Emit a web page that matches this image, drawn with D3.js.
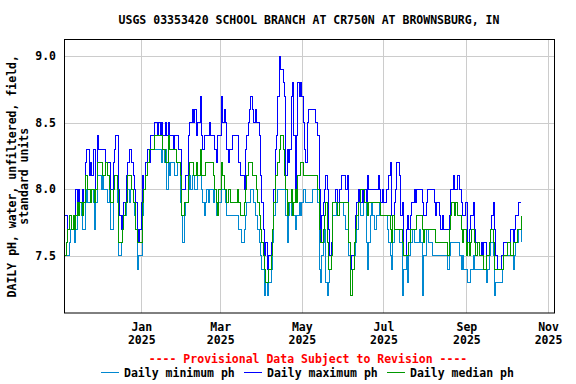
<!DOCTYPE html>
<html><head><meta charset="utf-8">
<script src="https://cdn.jsdelivr.net/npm/d3@7"></script>
<style>
body{margin:0;background:#fff}
svg text{font-family:"DejaVu Sans Mono",monospace;font-weight:bold;font-size:11.5px;fill:#000}
</style>
</head><body><svg id="c" width="576" height="384"></svg>
<script>
// ---- data (daily pH values, starting 2024-11-05) ----
const startDate = [2024, 10, 5];
const dailyMin = [
7.5,7.5,7.5,7.6,7.7,7.7,7.7,7.6,7.7,7.8,
7.8,7.9,7.8,7.7,7.7,7.9,8.0,7.9,7.9,7.9,
8.0,7.9,7.7,7.9,8.1,8.1,8.1,8.0,8.1,8.0,
8.0,8.0,7.9,8.0,7.7,7.7,8.0,8.1,8.1,7.9,
7.5,7.5,7.6,7.7,7.8,7.8,7.9,8.0,7.9,8.0,
8.0,7.9,7.8,7.7,7.4,7.5,7.5,7.5,7.8,8.0,
8.1,8.1,8.2,8.2,8.3,8.3,8.3,8.3,8.3,8.3,
8.3,8.3,8.2,8.3,8.2,8.3,8.0,8.2,8.1,8.2,
8.2,8.2,8.1,8.1,8.2,8.2,7.9,7.8,7.6,7.8,
7.9,7.9,8.0,8.1,8.0,8.1,8.1,8.0,8.0,8.1,
8.1,8.1,8.0,7.9,7.8,7.9,8.0,7.9,8.0,8.0,
8.0,7.9,8.0,7.8,7.8,7.9,7.9,8.0,8.0,8.0,
7.9,7.8,7.8,7.8,7.8,7.8,7.8,7.8,7.8,7.8,
7.7,7.7,7.6,7.6,7.7,7.8,7.9,7.9,7.9,8.0,
8.0,7.9,7.8,7.8,7.7,7.6,7.5,7.4,7.4,7.2,
7.3,7.2,7.3,7.3,7.4,7.6,7.8,7.9,7.9,8.0,
8.0,8.0,8.0,8.0,8.0,7.8,7.6,7.8,7.9,7.8,
7.9,7.8,7.7,7.8,7.8,7.9,7.8,7.9,8.0,8.0,
7.9,7.9,7.9,7.9,7.9,8.0,8.0,8.0,8.0,7.9,
7.4,7.3,7.5,7.6,7.7,7.3,7.2,7.3,7.4,7.5,
7.8,7.8,7.8,7.9,7.8,7.9,7.9,7.9,7.8,7.8,
7.7,7.7,7.5,7.2,7.2,7.4,7.5,7.6,7.7,7.9,
7.9,7.8,7.8,7.9,7.9,7.6,7.4,7.6,7.8,7.9,
7.8,7.7,7.7,7.8,7.8,7.9,7.8,7.8,7.8,7.8,
7.8,7.7,7.6,7.5,7.4,7.6,7.7,7.7,7.7,7.7,
7.6,7.6,7.2,7.4,7.4,7.5,7.3,7.5,7.6,7.6,
7.7,7.6,7.6,7.6,7.6,7.7,7.6,7.2,7.5,7.5,
7.7,7.7,7.6,7.6,7.6,7.5,7.5,7.5,7.5,7.5,
7.5,7.5,7.5,7.5,7.5,7.5,7.4,7.5,7.6,7.6,
7.6,7.6,7.6,7.6,7.6,7.5,7.4,7.5,7.4,7.4,
7.4,7.3,7.3,7.4,7.4,7.5,7.4,7.4,7.4,7.4,
7.4,7.4,7.4,7.4,7.4,7.3,7.4,7.5,7.6,7.6,
7.5,7.2,7.3,7.3,7.3,7.3,7.3,7.4,7.5,7.5,
7.5,7.5,7.5,7.5,7.5,7.4,7.5,7.6,7.6,7.7,
7.7,7.6];
const dailyMax = [
7.8,7.8,7.7,7.8,7.8,7.7,7.8,7.7,8.0,7.9,
8.0,7.9,7.9,8.0,7.9,8.2,8.3,8.3,8.1,8.2,
8.1,8.3,8.3,8.0,8.4,8.3,8.3,8.3,8.3,8.3,
8.2,8.2,8.2,8.2,8.0,8.0,8.2,8.3,8.4,8.4,
8.0,7.8,7.7,7.8,7.9,7.9,8.1,8.2,8.3,8.3,
8.2,8.1,8.0,7.9,7.7,7.6,7.7,7.9,8.1,8.0,
8.2,8.2,8.3,8.2,8.4,8.4,8.4,8.5,8.5,8.4,
8.5,8.4,8.5,8.4,8.4,8.5,8.4,8.5,8.4,8.4,
8.4,8.3,8.4,8.4,8.4,8.3,8.3,8.0,8.0,8.0,
8.1,8.1,8.4,8.5,8.5,8.6,8.5,8.6,8.4,8.5,
8.5,8.7,8.4,8.3,8.4,8.4,8.4,8.4,8.5,8.4,
8.4,8.4,8.3,8.2,8.4,8.4,8.4,8.7,8.5,8.6,
8.5,8.3,8.2,8.3,8.3,8.4,8.4,8.4,8.4,8.4,
8.2,8.1,8.1,8.1,8.0,8.3,8.4,8.5,8.6,8.7,
8.6,8.5,8.6,8.5,8.5,8.4,8.1,7.9,7.7,7.5,
7.6,7.4,7.5,7.5,7.6,7.7,8.0,8.3,8.4,8.7,
9.0,8.9,8.9,8.8,8.7,8.1,8.3,8.2,8.3,8.7,
8.8,8.4,8.0,8.4,8.8,8.7,8.8,8.7,8.5,8.3,
8.2,8.5,8.6,8.6,8.6,8.6,8.6,8.5,8.5,8.4,
8.0,7.6,7.8,7.9,8.0,8.1,8.0,7.7,7.5,7.6,
7.9,7.9,8.0,8.0,7.9,8.0,8.0,8.1,8.1,8.1,
8.0,8.1,7.6,7.4,7.5,7.5,7.6,7.8,7.9,8.0,
7.9,7.9,8.0,7.9,8.0,7.9,8.1,8.0,8.0,8.0,
8.0,8.0,8.0,8.0,8.1,8.0,7.9,8.0,7.9,7.9,
8.0,8.0,8.1,8.2,7.8,7.8,7.9,8.0,8.2,8.2,
8.1,7.8,7.9,7.5,7.5,7.7,7.8,7.7,7.8,7.9,
7.9,8.0,7.9,8.0,8.0,8.0,8.0,7.9,7.8,7.8,
7.9,8.0,8.0,8.0,8.0,8.0,7.9,7.8,7.9,7.9,
7.8,7.7,7.8,7.7,7.7,7.7,7.7,7.8,8.0,8.0,
8.1,8.0,8.0,8.1,8.1,8.0,7.9,7.8,7.8,7.9,
7.9,7.6,7.7,7.8,7.8,7.9,7.7,7.6,7.6,7.6,
7.5,7.6,7.5,7.6,7.6,7.5,7.5,7.6,7.7,7.8,
7.9,7.7,7.5,7.4,7.4,7.4,7.5,7.5,7.6,7.6,
7.6,7.6,7.6,7.7,7.7,7.6,7.7,7.8,7.8,7.9,
7.9,7.9];
const dailyMedian = [
7.5,7.6,7.7,7.8,7.8,7.7,7.8,7.7,7.8,7.9,
7.8,7.9,7.9,7.8,7.9,8.1,8.1,8.0,8.0,7.9,
8.0,8.0,7.9,8.0,8.2,8.2,8.2,8.2,8.1,8.1,
8.2,8.2,8.1,8.0,7.9,7.9,8.0,8.1,8.1,8.0,
7.6,7.6,7.6,7.7,7.8,7.9,7.9,8.1,8.1,8.1,
8.0,7.9,7.9,7.7,7.6,7.6,7.6,7.6,7.9,8.0,
8.1,8.1,8.2,8.3,8.3,8.3,8.3,8.4,8.4,8.4,
8.4,8.4,8.4,8.3,8.3,8.2,8.2,8.4,8.3,8.3,
8.3,8.3,8.3,8.2,8.2,8.2,8.1,7.8,7.8,7.9,
7.9,7.9,8.1,8.2,8.2,8.2,8.1,8.1,8.2,8.1,
8.1,8.3,8.1,8.1,8.1,8.2,8.2,8.2,8.2,8.2,
8.2,8.1,8.0,7.9,7.8,8.0,8.0,8.2,8.1,8.0,
8.0,7.9,8.0,8.0,7.9,7.9,7.9,7.9,7.9,8.0,
7.9,7.8,7.8,7.8,7.9,8.0,8.1,8.2,8.2,8.2,
8.1,8.1,8.1,8.0,7.9,7.8,7.7,7.6,7.5,7.4,
7.3,7.3,7.4,7.4,7.5,7.7,7.9,8.1,8.1,8.2,
8.3,8.4,8.4,8.3,8.1,8.0,7.8,7.9,7.9,8.0,
7.8,7.9,8.0,7.9,8.1,8.1,8.2,8.2,8.1,8.1,
8.1,8.1,8.1,8.1,8.1,8.1,8.1,8.1,8.1,8.0,
7.7,7.6,7.6,7.7,7.8,7.9,7.6,7.4,7.4,7.5,
7.9,7.9,7.9,7.9,7.8,7.9,7.9,7.9,7.9,7.9,
7.9,7.9,7.6,7.2,7.2,7.4,7.6,7.7,7.8,7.9,
7.9,8.0,8.0,8.0,7.9,7.9,7.8,7.9,7.9,7.9,
7.9,7.9,7.9,7.9,7.9,7.9,7.8,7.8,7.8,7.8,
7.8,7.8,7.8,7.7,7.6,7.8,7.7,7.7,7.7,7.7,
7.7,7.7,7.6,7.5,7.5,7.5,7.5,7.6,7.7,7.7,
7.7,7.7,7.7,7.8,7.8,7.8,7.8,7.7,7.6,7.7,
7.7,7.7,7.7,7.7,7.7,7.7,7.7,7.6,7.6,7.6,
7.6,7.6,7.6,7.6,7.6,7.6,7.5,7.7,7.8,7.9,
7.9,7.8,7.9,7.8,7.8,7.8,7.7,7.6,7.7,7.7,
7.5,7.6,7.5,7.6,7.7,7.7,7.6,7.5,7.6,7.6,
7.5,7.5,7.5,7.4,7.4,7.5,7.5,7.6,7.7,7.7,
7.6,7.4,7.4,7.4,7.4,7.4,7.4,7.4,7.5,7.5,
7.5,7.6,7.6,7.5,7.5,7.6,7.6,7.6,7.7,7.7,
7.7,7.8];
const yTicks = [7.5, 8.0, 8.5, 9.0];
const xTickMonths = ["2025-01-01","2025-03-01","2025-05-01","2025-07-01","2025-09-01","2025-11-01"];
const titleText = "USGS 03353420 SCHOOL BRANCH AT CR750N AT BROWNSBURG, IN";
const yLabelLines = ["DAILY pH, water, unfiltered, field,", "standard units"];
const provisionalText = "---- Provisional Data Subject to Revision ----";
const seriesNames = ["Daily minimum ph", "Daily maximum ph", "Daily median ph"];
const seriesColors = ["#0088d0", "#0000ff", "#009900"];

// ---- chart ----
const svg = d3.select("#c");
const L = 64, R = 554, T = 39.5, B = 313;
const x = d3.scaleUtc()
  .domain([new Date(Date.UTC(2024,10,4,6)), new Date(Date.UTC(2025,10,5,11))])
  .range([L, R]);
const y = d3.scaleLinear().domain([7.07, 9.125]).range([B, T]);

const toSeries = arr => arr.map((v,i) => ({date: new Date(Date.UTC(startDate[0], startDate[1], startDate[2]+i)), v}));

// grid
const tickDates = xTickMonths.map(s => new Date(s + "T00:00:00Z"));
svg.append("g").attr("transform", `translate(0,${B})`)
  .call(d3.axisBottom(x).tickValues(tickDates).tickSize(-(B-T)).tickFormat(""))
  .call(g => g.select(".domain").remove())
  .call(g => g.selectAll("line").attr("stroke","#cccccc").attr("shape-rendering","crispEdges"));
svg.append("g").attr("transform", `translate(${L},0)`)
  .call(d3.axisLeft(y).tickValues(yTicks).tickSize(-(R-L)).tickFormat(""))
  .call(g => g.select(".domain").remove())
  .call(g => g.selectAll("line").attr("stroke","#cccccc").attr("shape-rendering","crispEdges"));

// lines
const line = d3.line().x(d => x(d.date)).y(d => y(d.v)).curve(d3.curveStepAfter);
[dailyMin, dailyMax, dailyMedian].forEach((arr, k) => {
  svg.append("path").datum(toSeries(arr))
    .attr("fill","none").attr("stroke", seriesColors[k]).attr("stroke-width",1)
    .attr("shape-rendering","crispEdges")
    .attr("d", line);
});

// frame
svg.append("rect").attr("x", L+0.5).attr("y", T).attr("width", R-L).attr("height", B-T)
  .attr("fill","none").attr("stroke","#000").attr("stroke-width",1);

// y axis labels
svg.append("g").attr("transform", `translate(${L},0)`)
  .call(d3.axisLeft(y).tickValues(yTicks).tickSize(0).tickPadding(8).tickFormat(d3.format(".1f")))
  .call(g => g.select(".domain").remove())
  .call(g => g.selectAll("text").attr("font-family",null).attr("font-size",null));

// x axis labels
const xa = svg.append("g").attr("transform", `translate(0,${B})`)
  .call(d3.axisBottom(x).tickValues(tickDates).tickSize(0).tickPadding(0).tickFormat(""))
  .call(g => g.select(".domain").remove());
xa.selectAll(".tick").each(function(d){
  const t = d3.select(this).append("text").attr("text-anchor","middle");
  t.append("tspan").attr("x",0).attr("y",18).text(d3.utcFormat("%b")(d));
  t.append("tspan").attr("x",0).attr("y",31).text(d3.utcFormat("%Y")(d));
});

// title
svg.append("text").attr("x",(L+R)/2).attr("y",24).attr("text-anchor","middle").text(titleText);

// y label
const yl = svg.append("text").attr("transform", `translate(16,${(T+B)/2}) rotate(-90)`).attr("text-anchor","middle");
yl.append("tspan").attr("x",0).attr("y",0).text(yLabelLines[0]);
yl.append("tspan").attr("x",0).attr("y",12).text(yLabelLines[1]);

// provisional
svg.append("text").attr("x",308).attr("y",363).attr("text-anchor","middle").style("fill","#ff0000").text(provisionalText);

// legend
const legX = [101, 244, 387];
seriesNames.forEach((n,k) => {
  svg.append("line").attr("x1",legX[k]).attr("x2",legX[k]+18).attr("y1",372.5).attr("y2",372.5)
    .attr("stroke",seriesColors[k]).attr("stroke-width",1);
  svg.append("text").attr("x",legX[k]+23).attr("y",377).text(n);
});
</script>
</body></html>
